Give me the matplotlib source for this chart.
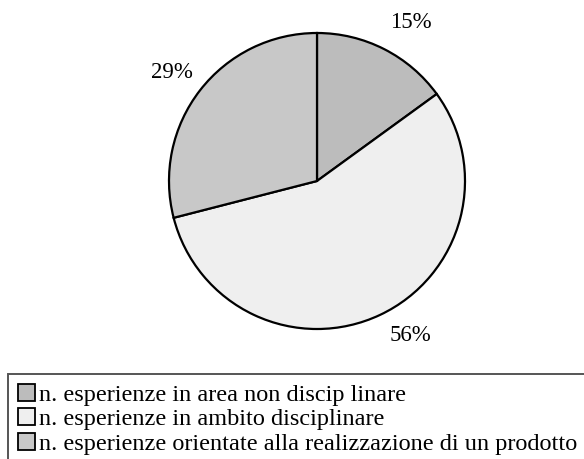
import matplotlib
matplotlib.use("Agg")
import matplotlib.pyplot as plt
from matplotlib.patches import Rectangle

plt.rcParams['font.family'] = ['Liberation Serif', 'DejaVu Serif']

## DATA
labels = ["n. esperienze in area non discip linare",
          "n. esperienze in ambito disciplinare",
          "n. esperienze orientate alla realizzazione di un prodotto"]
values = [15, 56, 29]
pct_labels = ["15%", "56%", "29%"]

## STYLE
colors = ["#bcbcbc", "#efefef", "#c8c8c8"]
W, H = 584, 460

fig = plt.figure(figsize=(W / 100, H / 100), dpi=100)
fig.set_facecolor("white")

# pie axes: centre (317,182) px, radius 148 px
ax = fig.add_axes([169 / W, (H - 330) / H, 296 / W, 296 / H])
ax.pie(values, colors=colors, startangle=90, counterclock=False, radius=1,
       wedgeprops={'edgecolor': 'black', 'linewidth': 1.6})
ax.set_xlim(-1, 1)
ax.set_ylim(-1, 1)
ax.axis("off")

# percentage labels
label_pos = [(411, 23), (410, 336), (172, 73)]
for (px, py), t in zip(label_pos, pct_labels):
  fig.text(px / W, 1 - py / H, t, fontsize=16.5, ha="center", va="center")

# legend box (runs off right and bottom)
fig.patches.append(Rectangle((8 / W, -0.1), 1.0, (H - 375) / H + 0.1,
                             transform=fig.transFigure, facecolor="none",
                             edgecolor="#555555", linewidth=1.4))

# legend rows, drawn by hand
ROW_Y0 = 393
ROW_STEP = 24.5
SQ = 17
for i, (lab, c) in enumerate(zip(labels, colors)):
  yc = ROW_Y0 + i * ROW_STEP
  fig.patches.append(Rectangle((18 / W, 1 - (yc + SQ / 2) / H), SQ / W, SQ / H,
                               transform=fig.transFigure, facecolor=c,
                               edgecolor="black", linewidth=1.3))
  fig.text(39 / W, 1 - yc / H, lab, fontsize=17.5, ha="left", va="center_baseline")

plt.savefig("out.png", dpi=100)
